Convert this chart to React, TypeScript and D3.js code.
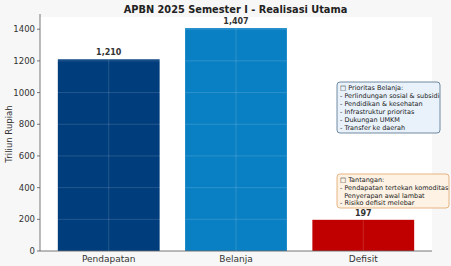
import React from "react";
import * as d3 from "d3";

const categories = ["Pendapatan", "Belanja", "Defisit"];
const values = [1210, 1407, 197];
const valueLabels = ["1,210", "1,407", "197"];
const barColors = ["#003d7c", "#0a80c4", "#c00000"];
const yTicks = [0, 200, 400, 600, 800, 1000, 1200, 1400];
const priorityLines = [
  "\u25A1 Prioritas Belanja:",
  "- Perlindungan sosial & subsidi",
  "- Pendidikan & kesehatan",
  "- Infrastruktur prioritas",
  "- Dukungan UMKM",
  "- Transfer ke daerah",
];
const challengeLines = [
  "\u25A1 Tantangan:",
  "- Pendapatan tertekan komoditas",
  "  Penyerapan awal lambat",
  "- Risiko defisit melebar",
];

const W = 451;
const H = 266;
const left = 40;
const right = 432;
const top = 17;
const bottom = 251;
const font = "DejaVu Sans, sans-serif";

export default function App() {
  const x = d3.scaleLinear().domain([-0.54, 2.54]).range([left, right]);
  const y = d3.scaleLinear().domain([0, 1477]).range([bottom, top]);
  const bw = x(0.4) - x(-0.4);

  return (
    <svg width={W} height={H} style={{ position: "absolute", left: 0, top: 0 }} fontFamily={font}>
      <rect x={0} y={0} width={W} height={H} fill="#f7f7f7" />
      <rect x={left} y={top} width={right - left} height={bottom - top} fill="#ffffff" />
      {values.map((v, i) => (
        <rect key={i} x={x(i) - bw / 2} y={y(v)} width={bw} height={y(0) - y(v)} fill={barColors[i]} />
      ))}
      {yTicks.map((t) => (
        <line key={"g" + t} x1={left} x2={right} y1={y(t)} y2={y(t)} stroke="#ffffff" strokeOpacity={0.18} strokeWidth={0.8} />
      ))}
      {categories.map((c, i) => (
        <line key={"gx" + i} x1={x(i)} x2={x(i)} y1={top} y2={bottom} stroke="#ffffff" strokeOpacity={0.18} strokeWidth={0.8} />
      ))}
      {values.map((v, i) => (
        <text key={"v" + i} x={x(i)} y={y(v) - 4} textAnchor="middle" fontSize={8} fontWeight="bold" fill="#333">
          {valueLabels[i]}
        </text>
      ))}
      <line x1={left} x2={left} y1={top - 3} y2={bottom} stroke="#555" strokeWidth={0.8} />
      <line x1={left} x2={right} y1={bottom} y2={bottom} stroke="#555" strokeWidth={0.8} />
      {yTicks.map((t) => (
        <g key={"t" + t}>
          <line x1={left - 3} x2={left} y1={y(t)} y2={y(t)} stroke="#555" strokeWidth={0.8} />
          <text x={left - 5} y={y(t) + 3} textAnchor="end" fontSize={8.5} fill="#333">
            {t}
          </text>
        </g>
      ))}
      {categories.map((c, i) => (
        <text key={"c" + i} x={x(i)} y={bottom + 10.5} textAnchor="middle" fontSize={9} fill="#333">
          {c}
        </text>
      ))}
      <text transform={`translate(12,${(top + bottom) / 2}) rotate(-90)`} textAnchor="middle" fontSize={8.5} fill="#333">
        Triliun Rupiah
      </text>
      <text x={235.5} y={12.5} textAnchor="middle" fontSize={9.8} fontWeight="bold" fill="#222">
        APBN 2025 Semester I - Realisasi Utama
      </text>
      <rect x={337} y={82} width={103} height={51} rx={3} fill="#e9f2fb" stroke="#4f6d8c" strokeWidth={0.8} />
      {priorityLines.map((l, i) => (
        <text key={"p" + i} x={340} y={90 + i * 8} fontSize={6.5} fill="#222" xmlSpace="preserve">
          {l}
        </text>
      ))}
      <rect x={337} y={174} width={112} height={34} rx={3} fill="#fdf2e4" stroke="#e0a468" strokeWidth={0.8} />
      {challengeLines.map((l, i) => (
        <text key={"c2" + i} x={340} y={182 + i * 7.8} fontSize={6.5} fill="#222" xmlSpace="preserve">
          {l}
        </text>
      ))}
    </svg>
  );
}
